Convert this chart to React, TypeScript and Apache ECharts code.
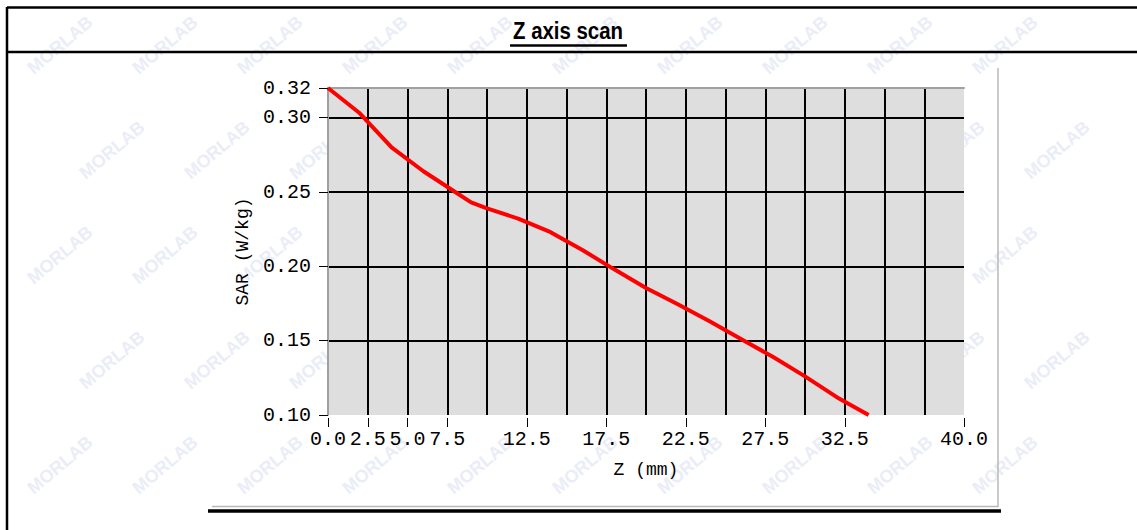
import React, { useEffect, useRef } from "react";
import * as echarts from "echarts";

const titleText = "Z axis scan";
const xAxisName = "Z (mm)";
const yAxisName = "SAR (W/kg)";
const zValues = [0, 2, 4, 6, 8, 9, 10, 12, 14, 16, 18, 20, 22, 24, 26, 28, 30, 32, 34];
const sarValues = [0.32, 0.303, 0.28, 0.264, 0.25, 0.243, 0.239, 0.232, 0.223, 0.211, 0.198, 0.1855, 0.1745, 0.163, 0.151, 0.139, 0.126, 0.112, 0.1];
const xTickValues = [0, 2.5, 5, 7.5, 12.5, 17.5, 22.5, 27.5, 32.5, 40];
const yTickValues = [0.1, 0.15, 0.2, 0.25, 0.3, 0.32];

const MONO = "'Liberation Mono', 'DejaVu Sans Mono', monospace";

function buildWatermarks() {
  const out: any[] = [];
  for (let j = 0; j < 5; j++) {
    for (let i = 0; i < 10; i++) {
      out.push({
        type: "text",
        z: -10,
        x: 60 + i * 105 + (j % 2) * 52,
        y: 45 + j * 105,
        rotation: 0.7,
        silent: true,
        style: {
          text: "MORLAB",
          font: "bold 18px 'Liberation Sans', Arial, sans-serif",
          fill: "#eaedf7",
          align: "center",
          verticalAlign: "middle",
        },
      });
    }
  }
  return out;
}

export default function App() {
  const ref = useRef<HTMLDivElement>(null);
  useEffect(() => {
    document.body.style.margin = "0";
    const chart = echarts.init(ref.current!, null, { renderer: "svg" });
    const data = zValues.map((z, i) => [z, sarValues[i]]);
    chart.setOption({
      animation: false,
      backgroundColor: "#ffffff",
      grid: {
        left: 328,
        top: 88,
        right: 173,
        bottom: 115,
        show: true,
        backgroundColor: "#dedede",
        borderWidth: 0,
      },
      xAxis: [
        {
          type: "value",
          min: 0,
          max: 40,
          interval: 2.5,
          offset: 3,
          name: xAxisName,
          nameLocation: "middle",
          nameGap: 43,
          nameTextStyle: { fontFamily: MONO, fontSize: 18, color: "#000" },
          axisLine: { show: false },
          axisTick: { show: true, length: 9, customValues: xTickValues, lineStyle: { color: "#000", width: 1 } },
          axisLabel: {
            customValues: xTickValues,
            formatter: (v: number) => v.toFixed(1),
            fontFamily: MONO,
            fontSize: 20,
            color: "#000",
            margin: 11,
            showMinLabel: true,
            showMaxLabel: true,
            hideOverlap: false,
          },
          splitLine: { show: false },
        },
        {
          type: "value",
          position: "top",
          min: 0,
          max: 40,
          axisLine: { show: true, lineStyle: { color: "#a0a0a0", width: 2 } },
          axisTick: { show: false },
          axisLabel: { show: false },
          splitLine: { show: false },
        },
        {
          type: "value",
          position: "bottom",
          min: 0,
          max: 40,
          interval: 2.5,
          axisLine: { show: false },
          axisTick: { show: false },
          axisLabel: { show: false },
          splitLine: { show: true, showMinLine: false, showMaxLine: false, lineStyle: { color: "#000", width: 2 } },
        },
      ],
      yAxis: [
        {
          type: "value",
          min: 0.1,
          max: 0.32,
          interval: 0.05,
          offset: 3,
          name: yAxisName,
          nameLocation: "middle",
          nameGap: 70,
          nameTextStyle: { fontFamily: MONO, fontSize: 18, color: "#000" },
          axisLine: { show: false },
          axisTick: { show: true, length: 9, customValues: yTickValues, lineStyle: { color: "#000", width: 1 } },
          axisLabel: {
            customValues: yTickValues,
            formatter: (v: number) => v.toFixed(2),
            fontFamily: MONO,
            fontSize: 20,
            color: "#000",
            margin: 14,
            showMinLabel: true,
            showMaxLabel: true,
          },
          splitLine: { show: true, showMinLine: false, showMaxLine: false, lineStyle: { color: "#000", width: 2 } },
        },
        {
          type: "value",
          position: "left",
          min: 0.1,
          max: 0.32,
          axisLine: { show: true, lineStyle: { color: "#a0a0a0", width: 2 } },
          axisTick: { show: false },
          axisLabel: { show: false },
          splitLine: { show: false },
        },
      ],
      series: [
        {
          type: "line",
          data,
          xAxisIndex: 0,
          yAxisIndex: 0,
          showSymbol: false,
          symbol: "none",
          smooth: false,
          lineStyle: { color: "#ff0000", width: 4 },
          z: 5,
        },
      ],
      graphic: [
        ...buildWatermarks(),
        { type: "line", shape: { x1: 7, y1: 7.5, x2: 1137, y2: 7.5 }, style: { stroke: "#000", lineWidth: 2.5 } },
        { type: "line", shape: { x1: 7, y1: 52, x2: 1137, y2: 52 }, style: { stroke: "#000", lineWidth: 2.5 } },
        { type: "line", shape: { x1: 7, y1: 7, x2: 7, y2: 530 }, style: { stroke: "#000", lineWidth: 2.5 } },
        {
          type: "text",
          x: 568,
          y: 31,
          scaleX: 0.85,
          style: {
            text: titleText,
            font: "bold 24px 'Liberation Sans', Arial, sans-serif",
            fill: "#000",
            align: "center",
            verticalAlign: "middle",
          },
        },
        { type: "line", shape: { x1: 510, y1: 45.5, x2: 627, y2: 45.5 }, style: { stroke: "#000", lineWidth: 2.5 } },
        { type: "line", shape: { x1: 998, y1: 68, x2: 998, y2: 507 }, style: { stroke: "#b8b8b8", lineWidth: 1.5 } },
        { type: "line", shape: { x1: 212, y1: 506.5, x2: 998, y2: 506.5 }, style: { stroke: "#b8b8b8", lineWidth: 1.5 } },
        { type: "line", shape: { x1: 208, y1: 511, x2: 1001, y2: 511 }, style: { stroke: "#000", lineWidth: 3.5 } },
      ],
    });
    return () => chart.dispose();
  }, []);
  return <div ref={ref} style={{ width: 1137, height: 530 }} />;
}
